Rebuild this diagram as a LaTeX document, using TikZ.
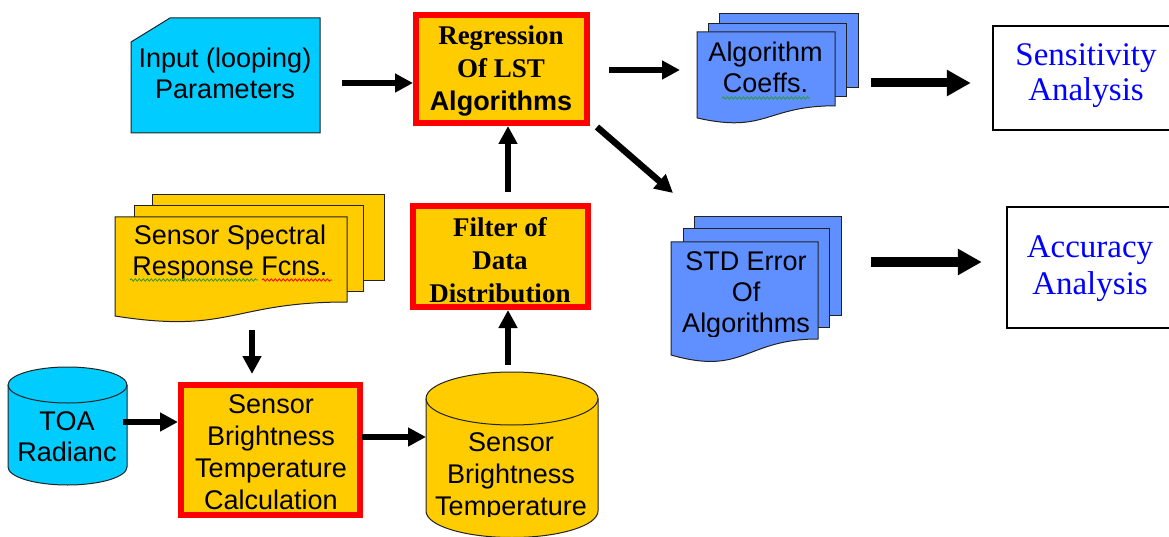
\documentclass[tikz,border=0pt]{standalone}
\usepackage{fontspec}
\setmainfont{Liberation Serif}
\setsansfont{Liberation Sans}
\newfontfamily\arialf{Liberation Sans}
\newfontfamily\timesf{Liberation Serif}
\usetikzlibrary{arrows.meta,decorations.pathmorphing}
\definecolor{cyanc}{HTML}{00CCFF}
\definecolor{goldc}{HTML}{FFCC00}
\definecolor{bluec}{HTML}{6090FF}
\definecolor{redc}{HTML}{FF0000}
\definecolor{txtblue}{HTML}{0000FF}
\definecolor{outl}{HTML}{222222}
\definecolor{squigG}{HTML}{2E9B2E}
\newcommand{\mlines}[1]{\begin{tabular}[t]{@{}c@{}}#1\end{tabular}}
\begin{document}
\begin{tikzpicture}[x=1pt,y=-1pt,
  outline/.style={draw=outl, line width=1pt},
  redbox/.style={draw=redc, line width=6pt, fill=goldc, inner sep=0pt},
  anbox/.style={draw=black, line width=2.5pt, fill=white, inner sep=0pt},
  hitbox/.style={inner sep=0pt, outer sep=0pt},
  asf/.style={font=\arialf\fontsize{27}{31}\selectfont, anchor=base, inner sep=0pt},
  tbf/.style={font=\timesf\bfseries\fontsize{27}{32.7}\selectfont, anchor=base, inner sep=0pt},
  tbl/.style={font=\timesf\fontsize{33}{35}\selectfont, text=txtblue, anchor=base, inner sep=0pt},
  arr/.style={line width=6.5pt, -{Triangle[length=18pt,width=18pt]}},
  bigarr/.style={line width=9pt, -{Triangle[length=24pt,width=25pt]}},
  squig/.style={line width=0.8pt, decorate, decoration={snake, amplitude=1.2pt, segment length=4pt}}
]
\useasboundingbox (0,0) rectangle (1169,537);
\fill[white] (0,0) rectangle (1169,537);

% ---------- Input (looping) Parameters card ----------
\filldraw[outline, fill=cyanc] (131,42) -- (170,18) -- (320,18) -- (320,133) -- (131,133) -- cycle;
\node[hitbox, minimum width=189pt, minimum height=115pt] (input) at (225.5,75.5) {};
\node[asf] (tInput) at (225,68) {\mlines{Input (looping)\\Parameters}};

% ---------- Regression box ----------
\node[redbox, minimum width=171pt, minimum height=108pt] (reg) at (501.5,69) {};
\node[tbf, font=\timesf\bfseries\fontsize{27}{33}\selectfont] (tReg) at (501,45) {\mlines{Regression\\Of LST\\{\arialf\bfseries Algorithms}}};

% ---------- Algorithm Coeffs document stack ----------
\filldraw[outline, fill=bluec] (719,14) rectangle (858,88);
\filldraw[outline, fill=bluec] (708,24) rectangle (846,97);
\filldraw[outline, fill=bluec] (697,32) -- (835,32) -- (835,105.8)
   .. controls (766,105.8) and (766,133.8) .. (697,117.9) -- cycle;
\node[hitbox, minimum width=161pt, minimum height=111pt] (coeffs) at (777.5,69.5) {};
\node[asf] (tCoeffs) at (765.5,62) {\mlines{Algorithm\\Coeffs.}};
\draw[squig, squigG] (722,98) -- (810,98);

% ---------- Sensitivity Analysis ----------
\node[anbox, minimum width=197pt, minimum height=104pt] (sens) at (1091.5,78) {};
\node[tbl, font=\timesf\fontsize{33}{34.5}\selectfont] (tSens) at (1086,66) {\mlines{Sensitivity\\Analysis}};

% ---------- Sensor Spectral Response document stack ----------
\filldraw[outline, fill=goldc] (152,195) rectangle (384,280);
\filldraw[outline, fill=goldc] (134,206) rectangle (363,291);
\filldraw[outline, fill=goldc] (115,217) -- (347,217) -- (347,302)
   .. controls (231,302) and (231,334.3) .. (115,316) -- cycle;
\node[hitbox, minimum width=269pt, minimum height=129pt] (spectral) at (249.5,259.5) {};
\node[asf, font=\arialf\fontsize{27}{30.5}\selectfont] (tSpectral) at (230,245) {\mlines{Sensor Spectral\\Response Fcns.}};
\draw[squig, squigG] (130,280) -- (258,280);
\draw[squig, redc] (262,280) -- (332,280);

% ---------- Filter box ----------
\node[redbox, minimum width=175pt, minimum height=101pt] (filter) at (500.5,256.5) {};
\node[tbf] (tFilter) at (500,237) {\mlines{Filter of\\Data\\Distribution}};

% ---------- STD Error document stack ----------
\filldraw[outline, fill=bluec] (694,217) rectangle (841,315);
\filldraw[outline, fill=bluec] (683,229) rectangle (829,327);
\filldraw[outline, fill=bluec] (671,242) -- (818,242) -- (818,339)
   .. controls (744.5,339) and (744.5,376) .. (671,355) -- cycle;
\node[hitbox, minimum width=170pt, minimum height=145pt] (std) at (756,289.5) {};
\begin{scope}
  \clip (660,230) rectangle (830,336);
  \node[asf] (tStd) at (746,270) {\mlines{STD Error\\Of\\Algorithms}};
\end{scope}

% ---------- Accuracy Analysis ----------
\node[anbox, minimum width=183pt, minimum height=121pt] (acc) at (1098.5,267.5) {};
\node[tbl, font=\timesf\fontsize{33}{37}\selectfont] (tAcc) at (1090,258) {\mlines{Accuracy\\Analysis}};

% ---------- TOA Radiance cylinder ----------
\filldraw[outline, fill=cyanc] (8,385) -- (8,467)
   arc[start angle=180, end angle=0, x radius=59.5, y radius=18] -- (127,385)
   arc[start angle=0, end angle=-180, x radius=59.5, y radius=18] -- cycle;
\draw[outline] (8,385) arc[start angle=180, end angle=0, x radius=59.5, y radius=18];
\node[hitbox, minimum width=119pt, minimum height=118pt] (toa) at (67.5,426) {};
\node[asf] (tToa) at (67,430) {\mlines{TOA\\Radianc}};

% ---------- Sensor Brightness Temperature Calculation ----------
\node[redbox, minimum width=179pt, minimum height=130pt] (calc) at (270.5,450) {};
\node[asf, font=\arialf\fontsize{27}{32}\selectfont] (tCalc) at (271,413) {\mlines{Sensor\\Brightness\\Temperature\\Calculation}};

% ---------- Sensor Brightness Temperature cylinder ----------
\filldraw[outline, fill=goldc] (426,398.5) -- (426,511)
   arc[start angle=180, end angle=0, x radius=86, y radius=26.5] -- (598,398.5)
   arc[start angle=0, end angle=-180, x radius=86, y radius=26.5] -- cycle;
\draw[outline] (426,398.5) arc[start angle=180, end angle=0, x radius=86, y radius=26.5];
\node[hitbox, minimum width=172pt, minimum height=166pt] (sbt) at (512,455) {};
\begin{scope}
  \clip (420,380) rectangle (605,516);
  \node[asf, font=\arialf\fontsize{27}{32}\selectfont] (tSbt) at (511,451) {\mlines{Sensor\\Brightness\\Temperature}};
\end{scope}

% ---------- Connectors ----------
\coordinate (a1) at (342,83);
\draw[arr] (a1) -- (reg.west |- a1);
\coordinate (a2) at (508,192);
\draw[arr] (a2) -- (reg.south -| a2);
\coordinate (a3) at (609,70);
\draw[arr, shorten >=17pt] (a3) -- (coeffs.west |- a3);
\coordinate (a4s) at (597,127);
\coordinate (a4e) at (673,193);
\draw[arr] (a4s) -- (a4e);
\coordinate (a5) at (871,83);
\draw[bigarr, shorten >=21pt] (a5) -- (sens.west |- a5);
\coordinate (a6) at (871,262);
\draw[bigarr, shorten >=24pt] (a6) -- (acc.west |- a6);
\coordinate (a7) at (252,330);
\draw[arr, shorten >=8pt] (a7) -- (calc.north -| a7);
\coordinate (a8) at (123,422);
\draw[arr] (a8) -- (calc.west |- a8);
\coordinate (a9) at (362,437);
\draw[arr] (a9) -- (sbt.west |- a9);
\coordinate (a10) at (508,365);
\draw[arr] (a10) -- (filter.south -| a10);
\end{tikzpicture}
\end{document}
